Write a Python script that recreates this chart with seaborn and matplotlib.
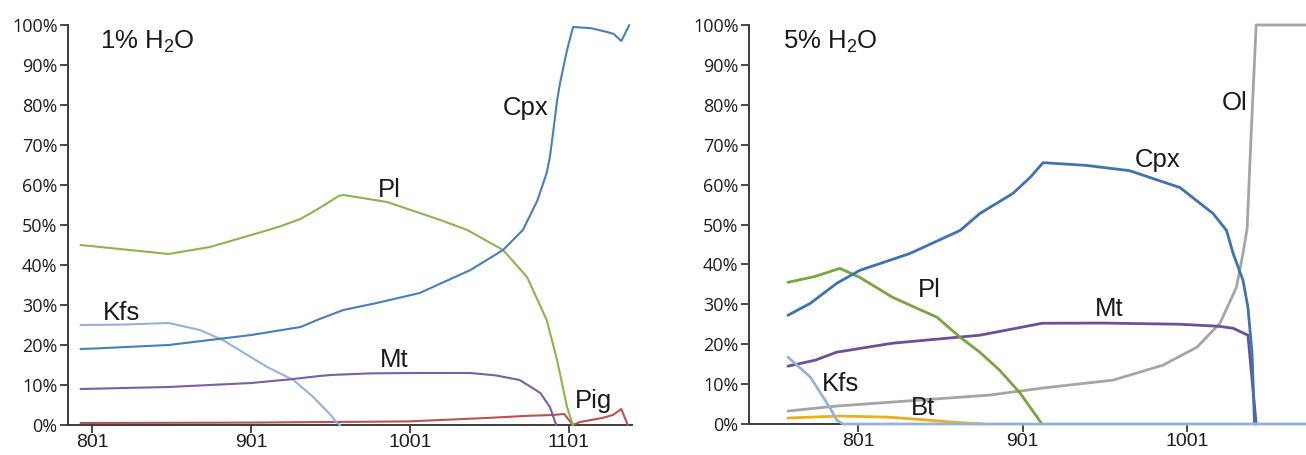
import matplotlib
matplotlib.use("Agg")
import matplotlib.pyplot as plt
from matplotlib.ticker import FuncFormatter, FixedLocator
import seaborn as sns

# ---- 1% H2O run: temperature (°C) and phase proportion (%) ----
cpx1_t = [793.5, 801, 849, 901, 932, 944, 959, 980, 1007, 1039, 1059.5, 1072, 1081,
          1087, 1089, 1091, 1093.5, 1095.4, 1099.8, 1103.6, 1115, 1125, 1129, 1134, 1139]
cpx1_p = [19, 19.1, 20, 22.5, 24.5, 26.5, 28.75, 30.5, 33, 38.75, 43.75, 48.75, 56,
          63, 67, 73, 81, 85.5, 93.75, 99.5, 99.2, 98.25, 97.8, 96, 100]

pl1_t = [793.5, 849, 875, 901, 918, 932, 944, 956, 959, 986.5, 1020, 1037, 1059.5, 1074.6,
         1087, 1093.5, 1099.8, 1103.5]
pl1_p = [45, 42.75, 44.5, 47.5, 49.5, 51.5, 54.25, 57.25, 57.5, 55.75, 51.25, 48.75, 43.75, 37,
         26.25, 16.25, 4.5, 0]

kfs1_t = [793.5, 820, 849, 868.7, 883, 911, 927.5, 940, 951, 955, 957]
kfs1_p = [25, 25.1, 25.5, 23.75, 21.25, 14.5, 11.25, 7, 2.5, 0.5, 0]

mt1_t = [793.5, 849, 901, 925, 944, 951, 975, 1003, 1039, 1055, 1070, 1083, 1089, 1093]
mt1_p = [9, 9.5, 10.5, 11.4, 12.25, 12.5, 12.9, 13, 13, 12.4, 11.25, 8, 4.5, 0]

pig1_t = [793.5, 900, 1000, 1049, 1075, 1091, 1098, 1103.5, 1108, 1122, 1128.6, 1134, 1138]
pig1_p = [0.5, 0.6, 0.9, 1.75, 2.3, 2.5, 2.75, 0, 0.75, 1.75, 2.5, 4, 0]

# ---- 5% H2O run ----
cpx5_t = [758.4, 772, 788, 802, 832.6, 863, 875, 895, 905.5, 913.5, 940, 966, 996.7,
          1016.8, 1025, 1029, 1035, 1038, 1040.5, 1042]
cpx5_p = [27.25, 30.25, 35.25, 38.5, 42.75, 48.5, 52.75, 57.75, 61.75, 65.5, 64.8, 63.5, 59.25,
          52.75, 48.5, 42.75, 36, 29.25, 17.75, 0]

pl5_t = [758.4, 775, 788, 790, 802, 822, 849, 863, 875, 887, 899.5, 912.8]
pl5_p = [35.5, 37, 38.75, 39, 36.75, 31.75, 26.75, 21.75, 18, 13.5, 7.75, 0]

mt5_t = [758.4, 775, 788, 822, 875, 913, 950, 996.7, 1020, 1029, 1038, 1043]
mt5_p = [14.5, 16, 18, 20.25, 22.25, 25.25, 25.3, 25, 24.5, 24, 22.25, 0]

ol5_t = [758.4, 788, 881, 913, 956, 986.4, 1007, 1021, 1031, 1035, 1037.5, 1040, 1043, 1073.3]
ol5_p = [3.25, 4.5, 7.25, 9, 11, 14.75, 19.25, 25.25, 34.25, 42.75, 49, 73, 100, 100]

kfs5_t = [758.4, 772, 784, 788, 792, 1073.3]
kfs5_p = [16.75, 11.75, 4, 1, 0, 0]

bt5_t = [758.4, 790, 820, 843, 860, 877]
bt5_p = [1.5, 2, 1.7, 1, 0.4, 0]

pct_ticks = list(range(0, 101, 10))
t_ticks_1 = [801, 901, 1001, 1101]
t_ticks_5 = [801, 901, 1001]

sns.set_theme(style="ticks")
plt.rcParams["font.family"] = ["Open Sans", "DejaVu Sans"]
plt.rcParams["mathtext.fontset"] = "custom"
plt.rcParams["mathtext.rm"] = "Liberation Sans"
plt.rcParams["mathtext.it"] = "Liberation Sans:italic"
plt.rcParams["mathtext.bf"] = "Liberation Sans:bold"

W, H = 1306, 455
fig = plt.figure(figsize=(W / 100, H / 100), dpi=100)
fig.patch.set_facecolor("white")
ax1 = fig.add_axes([68 / W, 30 / H, 564 / W, 400 / H])
ax2 = fig.add_axes([749 / W, 31 / H, 557 / W, 399 / H])

C_CPX, C_PL, C_KFS, C_MT = "#4a7ebb", "#8db44f", "#95b3d7", "#7b5ea6"
C_PIG, C_OL, C_BT = "#c0504d", "#a5a5a5", "#e8b021"


def draw(ax, t, p, color, lw):
    sns.lineplot(x=t, y=p, ax=ax, color=color, linewidth=lw, sort=False,
                 estimator=None, legend=False)


for t, p, c in [(pig1_t, pig1_p, C_PIG), (kfs1_t, kfs1_p, C_KFS), (mt1_t, mt1_p, C_MT),
                (pl1_t, pl1_p, C_PL), (cpx1_t, cpx1_p, C_CPX)]:
    draw(ax1, t, p, c, 1.5)

for t, p, c in [(bt5_t, bt5_p, C_BT), (ol5_t, ol5_p, C_OL), (mt5_t, mt5_p, "#6d4f98"),
                (pl5_t, pl5_p, "#78a63e"), (cpx5_t, cpx5_p, "#3f72b0"), (kfs5_t, kfs5_p, C_KFS)]:
    draw(ax2, t, p, c, 2.0)

ax1.set_xlim(785.6, 1140.7)
ax2.set_xlim(734.7, 1073.3)

for ax, xt in [(ax1, t_ticks_1), (ax2, t_ticks_5)]:
    ax.set_ylim(0, 100)
    ax.set_facecolor("white")
    for ln in ax.lines:
        ln.set_clip_on(False)
    sns.despine(ax=ax)
    for s in ("left", "bottom"):
        ax.spines[s].set_color("#3c3c3c")
        ax.spines[s].set_linewidth(1.4)
        ax.spines[s].set_zorder(0.5)
    ax.yaxis.set_major_locator(FixedLocator(pct_ticks))
    ax.yaxis.set_major_formatter(FuncFormatter(lambda v, pos: f"{v:.0f}%"))
    ax.xaxis.set_major_locator(FixedLocator(xt))
    ax.tick_params(axis="both", direction="out", color="#3c3c3c", width=1.3,
                   labelcolor="#1e1e1e")
    ax.tick_params(axis="y", length=6, pad=1.5, labelsize=13)
    ax.tick_params(axis="x", length=6, pad=0.5, labelsize=14)
    for lbl in ax.get_xticklabels():
        lbl.set_fontfamily("Liberation Sans")
    ax.set_xlabel("")
    ax.set_ylabel("")

lab = dict(fontfamily="Liberation Sans", fontsize=18.5, color="#1a1a1a",
           ha="left", va="baseline")

ax1.text(805.7, 94, "1% H$_{2}$O", **lab)
ax1.text(1059.5, 77.5, "Cpx", **lab)
ax1.text(981, 57, "Pl", **lab)
ax1.text(807.6, 26.25, "Kfs", **lab)
ax1.text(982, 14.5, "Mt", **lab)
ax1.text(1104.8, 4.25, "Pig", **lab)

ax2.text(755.4, 94, "5% H$_{2}$O", **lab)
ax2.text(1022.3, 78.7, "Ol", **lab)
ax2.text(969.4, 64.4, "Cpx", **lab)
ax2.text(837.5, 31.8, "Pl", **lab)
ax2.text(945, 27, "Mt", **lab)
ax2.text(779, 8.3, "Kfs", **lab)
ax2.text(833.2, 2.25, "Bt", **lab)

fig.savefig("out.png", dpi=100, facecolor="white")
